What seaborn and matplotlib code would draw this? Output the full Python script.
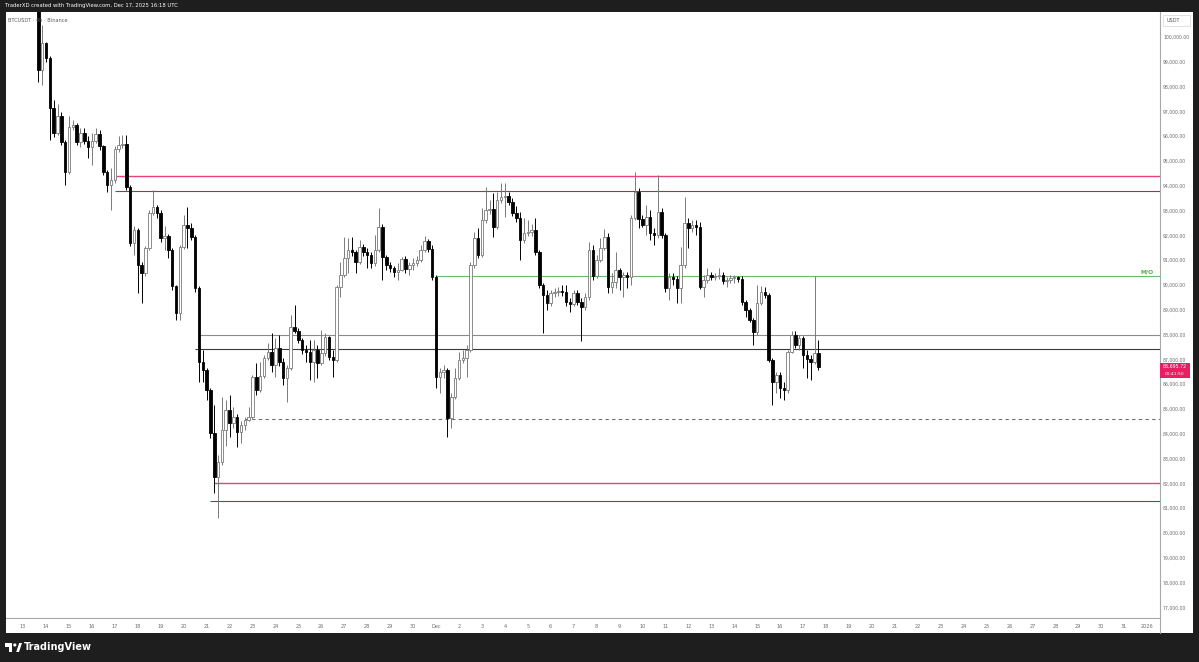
import numpy as np
import pandas as pd
import seaborn as sns
import matplotlib
matplotlib.use('Agg')
import matplotlib.pyplot as plt
from matplotlib import transforms
from matplotlib.patches import Rectangle, Circle, Polygon

# BTCUSDT 4h candles (Binance), first bar Nov 13 16:00 UTC
first_open = 101170
closes = [98670, 99760,
          99150, 97140, 96130, 96820, 95770, 94560,   # Nov 14
          96370, 96450, 95770, 96130, 95810, 95570,   # Nov 15
          95810, 96090, 95610, 94560, 94030, 94230,   # Nov 16
          95480, 95650, 95690, 93950, 91690, 92220,   # Nov 17
          90810, 90490, 91490, 92900, 93150, 92900,   # Nov 18
          91900, 91980, 91410, 89960, 88870, 91530,   # Nov 19
          92420, 92300, 91940, 89880, 86900, 86570,   # Nov 20
          85770, 84030, 82260, 82860, 84150, 84960,   # Nov 21
          84440, 84680, 84070, 84360, 84560, 84680,   # Nov 22
          86290, 85770, 86330, 87060, 87300, 86780,   # Nov 23
          87460, 86900, 86250, 86650, 88310, 88150,   # Nov 24
          87780, 87380, 87300, 86900, 87380, 86860,   # Nov 25
          87260, 87900, 87100, 86980, 89920, 90400,   # Nov 26
          91090, 91410, 91330, 90930, 91530, 91330,   # Nov 27
          91210, 90890, 91410, 92340, 91130, 90810,   # Nov 28
          90690, 90530, 90610, 91050, 90650, 90810,   # Nov 29
          90890, 91010, 91410, 91780, 91450, 90320,   # Nov 30
          86290, 86490, 86570, 84640, 85490, 86250,   # Dec 1
          86980, 87060, 87380, 90810, 91900, 91210,   # Dec 2
          92620, 93030, 93070, 92340, 93430, 93550,   # Dec 3
          93590, 93350, 92900, 92700, 91820, 92100,   # Dec 4
          92140, 92220, 91330, 90000, 89600, 89280,   # Dec 5
          89680, 89720, 89760, 89720, 89320, 89240,   # Dec 6
          89680, 89320, 89110, 89520, 91410, 90360,   # Dec 7
          91010, 91490, 91940, 89920, 90120, 90610,   # Dec 8
          90320, 90400, 90320, 92700, 93750, 92660,   # Dec 9
          92420, 92740, 92100, 92020, 92940, 92020,   # Dec 10
          89880, 90320, 90240, 89880, 90810, 92500,   # Dec 11
          92300, 92420, 92340, 89920, 90200, 90400,   # Dec 12
          90320, 90360, 90400, 90160, 90200, 90280,   # Dec 13
          90320, 90240, 89320, 88990, 88590, 88110,   # Dec 14
          89280, 89720, 89600, 86980, 86090, 86370,   # Dec 15
          85850, 85770, 87300, 87990, 87580, 87860,   # Dec 16
          87180, 87020, 86900, 87260, 86695.72]       # Dec 17

highs = [101290, 100480,
         99800, 99230, 97460, 97300, 96980, 95850,
         96820, 96650, 96530, 96330, 96330, 96010,
         96130, 96330, 96250, 95650, 94640, 94720,
         95610, 96010, 96050, 96050, 94030, 92380,
         92300, 90930, 91570, 93030, 93830, 93230,
         93030, 92380, 92060, 91490, 90000, 91610,
         92820, 93150, 92500, 92020, 89960, 87380,
         86650, 85850, 85160, 83150, 85490, 85360,
         85570, 85080, 84800, 84520, 84680, 85080,
         86370, 86860, 86900, 87180, 87660, 88070,
         87860, 87990, 87060, 86780, 88790, 89190,
         88270, 87860, 87580, 87780, 87780, 87580,
         88190, 88070, 87940, 87380, 90000, 90930,
         91940, 91900, 91940, 91410, 91820, 91650,
         91490, 91330, 92020, 93110, 92460, 91210,
         90930, 90770, 90890, 91130, 91170, 90930,
         91090, 91170, 91610, 91980, 91860, 91610,
         90400, 86650, 86780, 86650, 85650, 86650,
         87300, 87380, 87580, 90930, 92140, 92300,
         93110, 93950, 93430, 93710, 93750, 94110,
         94110, 93750, 93510, 93190, 92940, 92700,
         92620, 92460, 92700, 91410, 90080, 89800,
         89800, 89880, 89920, 90000, 90000, 89480,
         89800, 89800, 89480, 89680, 91740, 91610,
         91210, 91900, 92260, 92100, 90490, 91330,
         90690, 90530, 90530, 92820, 94560, 93910,
         92820, 93230, 93030, 92300, 94440, 93110,
         92100, 90490, 90490, 90360, 91530, 93550,
         92700, 92620, 92620, 92540, 90400, 90690,
         90530, 90490, 90690, 90530, 90320, 90400,
         90400, 90360, 90360, 89400, 89070, 88670,
         90000, 89960, 89920, 89680, 87060, 86490,
         86490, 86090, 87380, 88150, 88150, 87990,
         87940, 87380, 87180, 90350, 87780]

lows = [98190, 98060,
        98990, 95850, 95970, 96050, 95650, 94030,
        94480, 96250, 95650, 95570, 95690, 95120,
        94840, 95730, 95440, 94440, 93750, 93030,
        94110, 95360, 95530, 93830, 91570, 91210,
        89680, 89280, 90360, 91410, 92820, 92700,
        91740, 91410, 91090, 89800, 88590, 88590,
        91450, 91490, 91820, 89720, 86090, 86090,
        85360, 83830, 81610, 80610, 82740, 83510,
        83870, 84240, 83470, 83630, 84150, 84520,
        84600, 85570, 85690, 86250, 86980, 86490,
        86290, 86740, 85970, 85280, 86570, 88070,
        87660, 87220, 86900, 86170, 86090, 86250,
        86780, 87140, 86980, 86290, 86900, 89520,
        90320, 90490, 91170, 90490, 90850, 91170,
        90690, 90690, 90770, 91330, 90200, 90610,
        90530, 90320, 90200, 90570, 90490, 90400,
        90610, 90770, 90930, 91330, 91330, 90200,
        85850, 85650, 86250, 83870, 84240, 85400,
        86170, 86860, 86290, 87300, 90690, 91090,
        91130, 92500, 92860, 91940, 92260, 93310,
        92740, 93230, 92780, 92540, 91010, 91690,
        91980, 91980, 91210, 89880, 88070, 88990,
        89150, 89520, 89560, 89560, 89150, 88910,
        89150, 89190, 87740, 88990, 89400, 90200,
        90280, 90930, 91410, 89680, 89680, 89880,
        89800, 89520, 89880, 90000, 92620, 92300,
        92340, 92020, 91820, 91610, 91900, 91900,
        89720, 89400, 90000, 89280, 89280, 90690,
        91490, 92140, 92020, 89840, 89520, 90080,
        90200, 90200, 90240, 90040, 89920, 90080,
        90080, 90120, 89190, 88710, 88510, 87580,
        87990, 89190, 89480, 86900, 85160, 85650,
        85450, 85360, 85650, 87260, 87460, 87380,
        86650, 86250, 86170, 86820, 86570]

# horizontal drawings: price, start bar index, colour, width, style
level_prices = [94400, 93790, 88000, 87430, 90350, 84590, 82000, 81290]
level_start = [20, 20, 42, 41, 104, 54, 46, 45]
level_colors = ['#ec407a', '#8e3a4f', '#8c8c8c', '#3a3a3a', '#66bb6a', '#6e6e6e', '#ec407a', '#8e3a4f']
level_widths = [1.0, 0.8, 0.8, 0.8, 0.8, 0.8, 1.0, 0.8]
level_styles = ['-', '-', '-', '-', '-', (0, (3, 3)), '-', '-']

price_ticks = list(range(77000, 100001, 1000))
date_ticks = ['13', '14', '15', '16', '17', '18', '19', '20', '21', '22', '23', '24', '25',
              '26', '27', '28', '29', '30', 'Dec', '2', '3', '4', '5', '6', '7', '8', '9',
              '10', '11', '12', '13', '14', '15', '16', '17', '18', '19', '20', '21', '22',
              '23', '24', '25', '26', '27', '28', '29', '30', '31', '2026']

sns.set_style('white')
plt.rcParams['font.family'] = ['DejaVu Sans']

df = pd.DataFrame({'close': closes, 'high': highs, 'low': lows})
df['open'] = df['close'].shift(1).fillna(first_open)
times = pd.date_range('2025-11-13 16:00', periods=len(df), freq='4h')
df['t'] = (times - pd.Timestamp('2025-11-13')) / pd.Timedelta(days=1)
df['up'] = df['close'] >= df['open']

W, H = 1199, 662
def box(x0, y0, x1, y1):
    return [x0 / W, 1 - y1 / H, (x1 - x0) / W, (y1 - y0) / H]

fig = plt.figure(figsize=(W / 100, H / 100), dpi=100)
fig.patch.set_facecolor('#1e1e1e')

panel = fig.add_axes(box(6, 12, 1193, 633))
panel.set_facecolor('white')
panel.set_xticks([])
panel.set_yticks([])
for s in panel.spines.values():
    s.set_visible(False)

ax = fig.add_axes(box(6, 12, 1160, 618))
ax.set_facecolor('white')
ax.set_xlim(-0.745, 49.56)
ax.set_ylim(76574, 101008)

# wicks then bodies
wick_cols = np.where(df['up'], '#7a7a7a', '#000000')
ax.vlines(df['t'], df['low'], df['high'], colors=wick_cols, linewidth=0.7, zorder=2)
body_bottom = df[['open', 'close']].min(axis=1)
body_height = (df['close'] - df['open']).abs().clip(lower=15)
ax.bar(df['t'], body_height, bottom=body_bottom, width=0.11,
       color=np.where(df['up'], 'white', 'black'),
       edgecolor=np.where(df['up'], '#7a7a7a', 'black'), linewidth=0.6, zorder=3)

# drawings
for p, k, c, w, ls in zip(level_prices, level_start, level_colors, level_widths, level_styles):
    ax.hlines(p, df['t'][k], 49.56, colors=c, linewidth=w, linestyles=ls, zorder=1)

ax.text(49.3, level_prices[4] + 60, 'M/O', color='#4caf50', fontsize=4.3,
        fontweight='bold', ha='right', va='bottom')

# axes
ax.yaxis.tick_right()
ax.set_yticks(price_ticks)
ax.set_yticklabels([f'{v:,.2f}' for v in price_ticks])
ax.set_xticks(range(len(date_ticks)))
ax.set_xticklabels(date_ticks)
ax.tick_params(axis='both', length=0, labelcolor='#6b6b6b')
ax.tick_params(axis='y', pad=2.2, labelsize=3.3)
ax.tick_params(axis='x', pad=4.5, labelsize=3.6)
for side in ['left', 'top']:
    ax.spines[side].set_visible(False)
for side in ['right', 'bottom']:
    ax.spines[side].set_color('#a8a8a8')
    ax.spines[side].set_linewidth(0.8)

# last price label on the scale
blend = transforms.blended_transform_factory(ax.transAxes, ax.transData)
last = closes[-1]
ax.add_patch(Rectangle((1.0, last - 440), 30 / 1154, 600, transform=blend,
                       facecolor='#e91e63', edgecolor='none', clip_on=False, zorder=5))
ax.text(1.0 + 15 / 1154, last + 20, f'{last:,.2f}', transform=blend, color='white',
        fontsize=3.4, ha='center', va='center', zorder=6, clip_on=False)
ax.text(1.0 + 15 / 1154, last - 270, '00:41:50', transform=blend, color='white',
        fontsize=3.2, ha='center', va='center', zorder=6, clip_on=False)

# overlay for the frame texts
ov = fig.add_axes([0, 0, 1, 1])
ov.set_xlim(0, W)
ov.set_ylim(H, 0)
ov.axis('off')
ov.patch.set_alpha(0)
ov.plot([1160, 1160], [618, 633], color='#a8a8a8', lw=0.8)
ov.text(5, 6, 'TraderXD created with TradingView.com, Dec 17, 2025 16:18 UTC',
        color='white', fontsize=3.8, va='center', ha='left')
ov.text(8, 20, 'BTCUSDT · 4h · Binance', color='#5a5a5a', fontsize=3.6, va='center', ha='left')
ov.add_patch(Rectangle((1163, 15), 27, 11, facecolor='white', edgecolor='#dcdcdc', lw=0.6))
ov.text(1167, 20.5, 'USDT', color='#5a5a5a', fontsize=3.6, va='center', ha='left')

# TradingView logo
ov.add_patch(Rectangle((5, 643), 7, 3.5, facecolor='white', edgecolor='none'))
ov.add_patch(Rectangle((8.5, 643), 3.5, 9, facecolor='white', edgecolor='none'))
ov.add_patch(Circle((14.8, 645), 1.6, facecolor='white', edgecolor='none'))
ov.add_patch(Polygon([(16.2, 652), (19.2, 643), (22, 643), (19, 652)], facecolor='white', edgecolor='none'))
ov.text(24, 647.5, 'TradingView', color='white', fontsize=7, fontweight='bold', va='center', ha='left')

fig.savefig('out.png', dpi=100, facecolor=fig.get_facecolor())
